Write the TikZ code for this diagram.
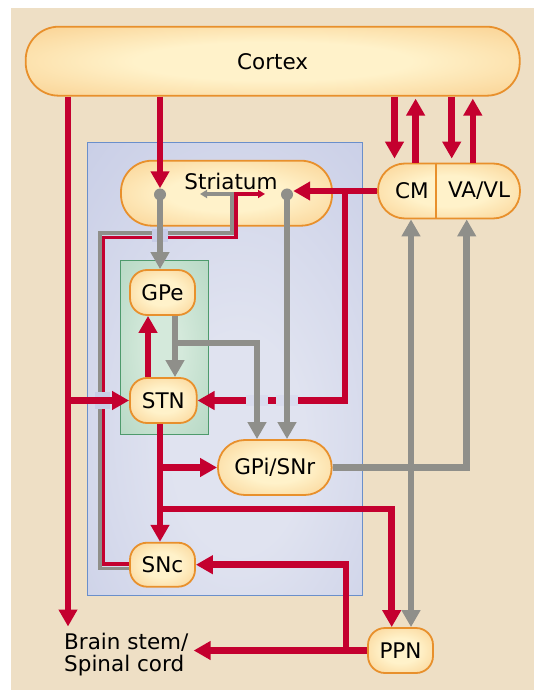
\documentclass[tikz,border=0pt]{standalone}
\usepackage{fontspec}
\setmainfont{DejaVu Sans}
\usepackage{xcolor}
\usetikzlibrary{arrows.meta, calc}

\definecolor{beige}{HTML}{EEDFC5}
\definecolor{bluein}{HTML}{E0E3F0}
\definecolor{blueout}{HTML}{C1C7E3}
\definecolor{blueline}{HTML}{6A8FCB}
\definecolor{greenin}{HTML}{D4E9DB}
\definecolor{greenout}{HTML}{A8D0B9}
\definecolor{greenline}{HTML}{4E9A6C}
\definecolor{nodein}{HTML}{FFF2CA}
\definecolor{nodeout}{HTML}{F5B764}
\definecolor{nodeline}{HTML}{E8902C}
\definecolor{redpath}{HTML}{C4002F}
\definecolor{graypath}{HTML}{8F8F8A}
\definecolor{halolight}{HTML}{D9DCEE}
\definecolor{halodark}{HTML}{C8CDE7}

\pgfdeclareradialshading{nucleus}{\pgfpoint{0bp}{0bp}}{color(0bp)=(nodein); color(14bp)=(nodein); color(36bp)=(nodein!45!nodeout); color(50bp)=(nodeout); color(72bp)=(nodeout)}
\pgfdeclareradialshading{bluebox}{\pgfpoint{3bp}{-10bp}}{color(0bp)=(bluein); color(12bp)=(bluein); color(50bp)=(blueout); color(72bp)=(blueout)}
\pgfdeclareradialshading{greenbox}{\pgfpoint{0bp}{0bp}}{color(0bp)=(greenin); color(10bp)=(greenin); color(50bp)=(greenout); color(72bp)=(greenout)}

\begin{document}
\begin{tikzpicture}[x=1pt, y=-1pt, font=\fontsize{21.5pt}{22.7pt}\selectfont,
  nucleus/.style={shading=nucleus, draw=nodeline, line width=1.8pt, rounded corners=17pt,
    minimum width=65pt, minimum height=45pt, inner sep=0pt},
  redline/.style={draw=redpath, line width=6.5pt},
  grayline/.style={draw=graypath, line width=6.5pt},
  thinred/.style={draw=redpath, line width=3.3pt, -{Triangle[width=8pt,length=7pt]}},
  thingray/.style={draw=graypath, line width=3.3pt, -{Triangle[width=8pt,length=7pt]}},
  bridge/.style={line width=#1},
  dot/.style={circle, fill=graypath, minimum size=12pt, inner sep=0pt},
  >={Triangle[width=18pt,length=17pt]}]

\useasboundingbox (0,0) rectangle (534,692);
\fill[white] (0,0) rectangle (534,692);
\fill[beige] (11,8) rectangle (534,690);

% boxes
\path[shading=bluebox, draw=blueline, line width=1pt] (87,143) rectangle (362.7,595);
\path[shading=greenbox, draw=greenline, line width=1pt] (120,260.7) rectangle (208,434);

% nuclei
\node[nucleus, minimum width=494pt, minimum height=69pt, rounded corners=33pt] (cortex) at (272.7,61.2) {Cortex};
\node[nucleus, minimum width=211pt, minimum height=65pt, rounded corners=31pt] (striatum) at (226.5,193.2) {};
\node at (231,181.5) {Striatum};
\node[nucleus, minimum width=142pt, minimum height=55pt, rounded corners=27pt] (thal) at (449,191) {};
\draw[nodeline, line width=1.2pt] (thal.north -| 436,0) -- (thal.south -| 436,0);
\node (cm) at (412,191) {CM};
\node (vavl) at (479,191) {VA/VL};
\node[nucleus] (gpe) at (162.5,292.5) {GPe};
\node[nucleus, minimum width=66.7pt] (stn) at (163.3,400.5) {STN};
\node[nucleus, minimum width=113.7pt, minimum height=55pt, rounded corners=27pt] (gpi) at (274.8,467.5) {GPi/SNr};
\node[nucleus, minimum height=44pt] (snc) at (162.5,564.7) {SNc};
\node[nucleus] (ppn) at (400.5,650.5) {PPN};
\node[anchor=north west, align=left, inner xsep=5pt, inner ysep=6pt] (brainstem) at (59,626.5) {Brain stem/\\Spinal cord};
\node[dot] (sdotl) at (160,194.5) {};
\node[dot] (sdotr) at (287,194.5) {};

% SNc to striatum
\coordinate (dopred) at (265,194);
\coordinate (dopgray) at (200,194);
\draw[thingray] (snc.west |- 0,568.5) -| (100,233) -| (232,194) -- (dopgray);
\draw[thinred] (snc.west |- 0,564) -| (103.5,237.5) -| (236,194) -- (dopred);

% red paths
\draw[bridge=17pt, halodark] (95,400.5) -- (110,400.5);
\draw[redline,->] (cortex.south -| 68,0) -- (brainstem.north -| 68,0);
\draw[redline,->] (stn.west -| 68,0) -- (stn.west);
\draw[redline,->] (cortex.south -| sdotl) -- (sdotl.north);
\foreach \xd/\xu in {394.5/415.6, 451.7/472.8}{
  \draw[redline,->, shorten >=4pt] (cortex.south -| \xd,0) -- (thal.north -| \xd,0);
  \draw[redline,->, shorten >=2pt] (thal.north -| \xu,0) -- (cortex.south -| \xu,0);
}
\draw[redline,->] (thal.west) -- (thal.west -| sdotr.east);
\draw[redline,->] (thal.west -| 345,0) |- (stn.east);
\draw[redline,->] (stn.north -| 148,0) -- (gpe.south -| 148,0);
\draw[redline,->] (stn.south -| 160,0) -- (snc.north -| 160,0);
\draw[redline,->] (gpi.west -| 160,0) -- (gpi.west);
\coordinate (sncfork) at (160,509);
\draw[redline,->] (sncfork) -| (ppn.north -| 391.7,0);
\draw[redline,->] (ppn.west) -- (ppn.west -| brainstem.east);
\draw[redline,->] (ppn.west -| 346,0) |- (snc.east);

% gray paths
\draw[bridge=22pt, halolight] (257,395) -- (257,406);
\draw[bridge=22pt, halolight] (287,395) -- (287,406);
\draw[bridge=16pt, halodark] (160,229) -- (160,242);
\draw[grayline,->] (sdotl.center) -- (sdotl |- gpe.north);
\draw[grayline,->] (sdotr.center) -- (sdotr |- gpi.north);
\draw[grayline,->] (gpe.south -| 175,0) -- (stn.north -| 175,0);
\coordinate (gpefork) at (175,343);
\draw[grayline,->] (gpefork) -| (gpi.north -| 257,0);
\draw[grayline,->] (gpi.east) -| (thal.south -| 466.7,0);
\draw[grayline,<->] (thal.south -| 411,0) -- (ppn.north -| 411,0);

\end{tikzpicture}
\end{document}
